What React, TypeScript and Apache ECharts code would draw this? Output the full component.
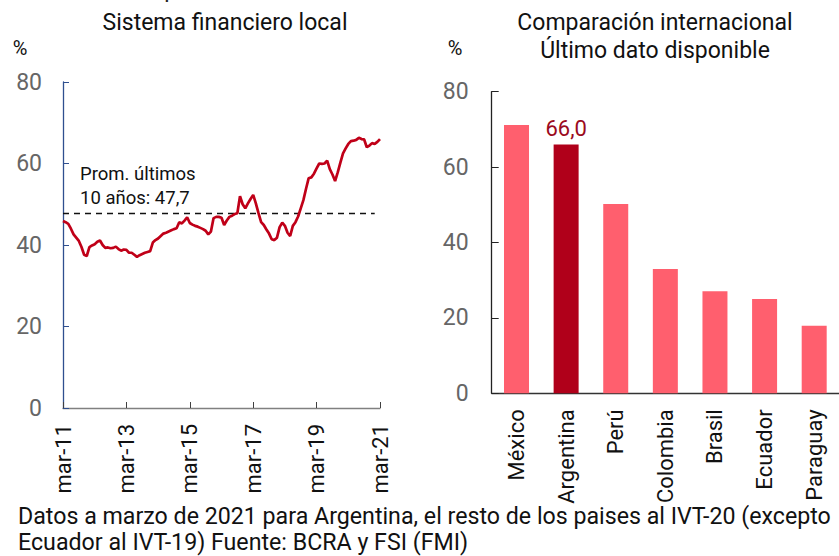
import React, { useEffect, useRef } from "react";
import * as echarts from "echarts";

const MONTH_NAMES = ["ene", "feb", "mar", "abr", "may", "jun", "jul", "ago", "sep", "oct", "nov", "dic"];
const START_YEAR = 2011;
const START_MONTH = 2; // marzo

const liquidity = [
  45.9, 45.6, 45.2, 44.0, 42.6, 41.8, 41.0, 39.5, 37.6, 37.3,
  39.5, 39.9, 40.2, 40.8, 41.1, 40.0, 39.3, 39.4, 39.2, 39.3,
  39.6, 39.0, 38.6, 38.9, 38.8, 38.1, 38.1, 37.6, 37.1, 37.5,
  37.8, 38.1, 38.3, 38.5, 40.6, 41.2, 41.6, 42.2, 42.8, 43.0,
  43.3, 43.6, 43.9, 44.1, 45.6, 45.3, 46.0, 46.8, 45.4, 45.0,
  44.7, 44.5, 44.2, 43.9, 43.5, 42.6, 43.3, 46.6, 46.9, 46.9,
  46.7, 44.9, 46.0, 46.9, 47.2, 47.6, 47.8, 52.0, 50.0, 49.0,
  50.2, 51.3, 52.3, 50.2, 47.8, 45.6, 44.9, 43.8, 42.8, 41.4,
  41.2, 41.8, 44.4, 45.5, 44.7, 43.0, 42.2, 44.7, 45.6, 47.0,
  49.0, 51.0, 53.8, 56.4, 56.6, 57.5, 58.8, 60.0, 59.9, 60.0,
  60.7, 58.6, 57.3, 55.7, 57.8, 60.2, 62.5, 63.7, 64.8, 65.5,
  65.6, 65.8, 66.3, 66.0, 65.9, 64.0, 64.4, 65.0, 64.8, 65.3,
  66.0,
];
const AVG_10Y = 47.7;
const AVG_POINTS = 119;

const countries = ["México", "Argentina", "Perú", "Colombia", "Brasil", "Ecuador", "Paraguay"];
const countryValues = [71.2, 66.0, 50.2, 33.0, 27.1, 25.0, 17.9];
const HIGHLIGHT = "Argentina";

const yTicksMax = 80;
const yTicksInterval = 20;

const monthLabels = liquidity.map((_, i) => {
  const m = (START_MONTH + i) % 12;
  const y = START_YEAR + Math.floor((START_MONTH + i) / 12);
  return `${MONTH_NAMES[m]}-${String(y % 100).padStart(2, "0")}`;
});
const avgSeries = liquidity.map((_, i) => (i < AVG_POINTS ? AVG_10Y : null));

const FONT = "Roboto";
const PINK = "#FF5F6E";
const DARK_RED = "#B0001A";
const LINE_RED = "#C00018";

export default function App() {
  const ref = useRef<HTMLDivElement>(null);
  useEffect(() => {
    document.body.style.margin = "0";
    const chart = echarts.init(ref.current!, null, { renderer: "svg" });
    const txt = (text: string, x: number, y: number, fontSize: number, align = "center", fill = "#111") => ({
      type: "text",
      x,
      y,
      style: { text, fontSize, fill, fontFamily: FONT, align, verticalAlign: "middle" },
    });
    chart.setOption({
      animation: false,
      textStyle: { fontFamily: FONT },
      grid: [
        { left: 63, top: 82, width: 317, height: 326 },
        { left: 491.7, top: 91.7, width: 350, height: 301.6 },
      ],
      xAxis: [
        {
          type: "category",
          gridIndex: 0,
          data: monthLabels,
          boundaryGap: false,
          axisLine: { lineStyle: { color: "#808080", width: 1.3 } },
          axisTick: { inside: true, length: 6, interval: 23, lineStyle: { color: "#404040" } },
          axisLabel: {
            interval: 23,
            rotate: 90,
            fontSize: 22,
            color: "#111",
            fontFamily: FONT,
            margin: 16,
          },
        },
        {
          type: "category",
          gridIndex: 1,
          data: countries,
          axisLine: { lineStyle: { color: "#333", width: 1.3 } },
          axisTick: { show: false },
          axisLabel: {
            interval: 0,
            rotate: 90,
            fontSize: 22,
            color: "#111",
            fontFamily: FONT,
            margin: 16,
          },
        },
      ],
      yAxis: [
        {
          type: "value",
          gridIndex: 0,
          min: 0,
          max: yTicksMax,
          interval: yTicksInterval,
          axisLine: { show: true, lineStyle: { color: "#2F4F8F", width: 1.3 } },
          axisTick: { show: true, inside: true, length: 6, lineStyle: { color: "#2F4F8F" } },
          axisLabel: { fontSize: 23, color: "#666", fontFamily: FONT, margin: 21 },
          splitLine: { show: false },
        },
        {
          type: "value",
          gridIndex: 1,
          min: 0,
          max: yTicksMax,
          interval: yTicksInterval,
          axisLine: { show: true, lineStyle: { color: "#222", width: 1.3 } },
          axisTick: { show: true, inside: true, length: 7, lineStyle: { color: "#222" } },
          axisLabel: { fontSize: 23, color: "#666", fontFamily: FONT, margin: 23 },
          splitLine: { show: false },
        },
      ],
      series: [
        {
          type: "line",
          xAxisIndex: 0,
          yAxisIndex: 0,
          data: avgSeries,
          showSymbol: false,
          lineStyle: { color: "#111", width: 1.5, type: [6, 5] },
          z: 2,
        },
        {
          type: "line",
          xAxisIndex: 0,
          yAxisIndex: 0,
          data: liquidity,
          showSymbol: false,
          lineStyle: { color: LINE_RED, width: 2.7 },
          z: 3,
        },
        {
          type: "bar",
          xAxisIndex: 1,
          yAxisIndex: 1,
          barWidth: 25,
          data: countries.map((c, i) => ({
            value: countryValues[i],
            itemStyle: { color: c === HIGHLIGHT ? DARK_RED : PINK },
            label:
              c === HIGHLIGHT
                ? {
                    show: true,
                    position: "top",
                    distance: 5,
                    formatter: (p: any) => p.value.toFixed(1).replace(".", ","),
                    fontSize: 22,
                    color: "#9B0A20",
                    fontFamily: FONT,
                  }
                : { show: false },
          })),
        },
      ],
      graphic: [
        txt("Liquidez en % de depósitos", 240, -11, 23, "right", "#222"),
        txt("Sistema financiero local", 225, 22, 23),
        txt("%", 20, 48, 20),
        txt("Comparación internacional", 655, 22, 23),
        txt("Último dato disponible", 655, 50, 23),
        txt("%", 455, 48, 20),
        txt("Prom. últimos", 80, 174, 18.5, "left"),
        txt("10 años: 47,7", 80, 198, 18.5, "left"),
        txt("Datos a marzo de 2021 para Argentina, el resto de los paises al IVT-20 (excepto", 18, 516, 23.2, "left"),
        txt("Ecuador al IVT-19) Fuente: BCRA y FSI (FMI)", 18, 542, 23.2, "left"),
      ],
    });
    return () => chart.dispose();
  }, []);
  return <div ref={ref} style={{ width: 839, height: 556 }} />;
}
